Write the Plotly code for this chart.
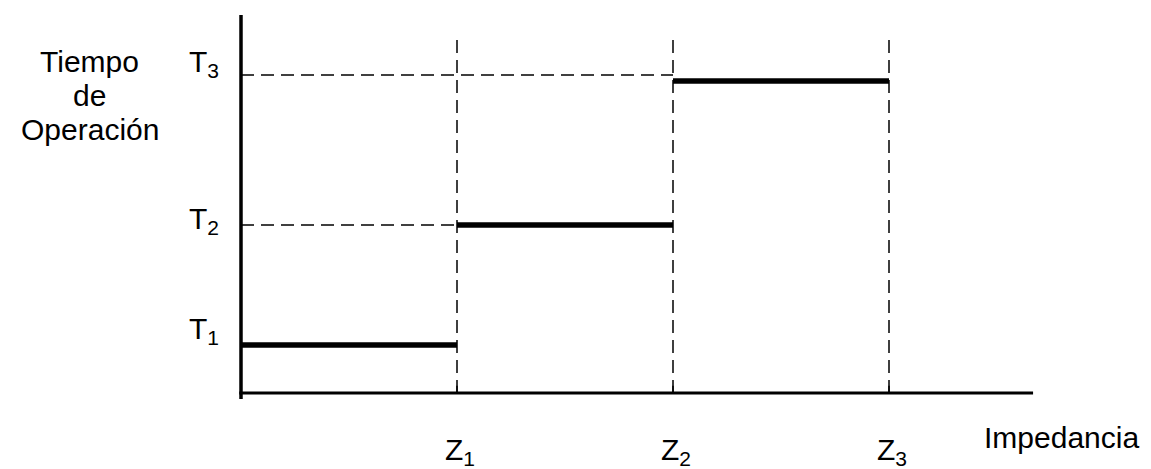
import plotly.graph_objects as go

# Data
z_labels = ["Z<sub>1</sub>", "Z<sub>2</sub>", "Z<sub>3</sub>"]
z_values = [1.0, 2.0, 3.0]
t_labels = ["T<sub>1</sub>", "T<sub>2</sub>", "T<sub>3</sub>"]
t_values = [0.8, 2.8, 5.2]          # operating-time level of each zone
t_guides = [0.8, 2.8, 5.3]          # dashed guide levels
y_title_lines = ["Tiempo", "de", "Operación"]
x_title = "Impedancia"
x_axis_end = 3.667
y_axis_top = 6.3
guide_top = 6.0

# the page body has an 8px margin, so the figure is drawn 8px smaller
W, H = 1151 - 8, 469 - 8
FONT = "Liberation Sans, Arial, sans-serif"
FS = 30
DASH = "13px,7px"

fig = go.Figure()

# Vertical dashed guides at Z1, Z2, Z3
for z in z_values:
    fig.add_trace(go.Scatter(x=[z, z], y=[0, guide_top], mode="lines",
                             line=dict(color="black", width=1.5, dash=DASH),
                             hoverinfo="skip"))
# Horizontal dashed guides at T2 and T3
fig.add_trace(go.Scatter(x=[0, z_values[0]], y=[t_guides[1], t_guides[1]], mode="lines",
                         line=dict(color="black", width=1.5, dash=DASH), hoverinfo="skip"))
fig.add_trace(go.Scatter(x=[0, z_values[1]], y=[t_guides[2], t_guides[2]], mode="lines",
                         line=dict(color="black", width=1.5, dash=DASH), hoverinfo="skip"))

# Step characteristic
starts = [0.0] + z_values[:-1]
for x0, x1, t in zip(starts, z_values, t_values):
    fig.add_trace(go.Scatter(x=[x0, x1], y=[t, t], mode="lines",
                             line=dict(color="black", width=5.5), hoverinfo="skip"))

# Axes
fig.add_trace(go.Scatter(x=[0, 0], y=[-0.1, y_axis_top], mode="lines",
                         line=dict(color="black", width=3.5), hoverinfo="skip"))
fig.add_trace(go.Scatter(x=[-0.008, x_axis_end], y=[0, 0], mode="lines",
                         line=dict(color="black", width=3), hoverinfo="skip"))
# small ticks on x-axis
for z in z_values:
    fig.add_trace(go.Scatter(x=[z, z], y=[0, 0.12], mode="lines",
                             line=dict(color="black", width=1.5), hoverinfo="skip"))

# fixed scale: x origin at 233px, 216px per unit; y origin at 385px, 60px per unit
xr = [-233 / 216, (W - 233) / 216]
yr = [(385 - H) / 60, 385 / 60]

font = dict(family=FONT, size=FS, color="black")
annotations = []
for lab, z in zip(z_labels, z_values):
    annotations.append(dict(x=z + 0.015, y=-0.98, xref="x", yref="y", text=lab, showarrow=False,
                            font=font, xanchor="center", yanchor="middle"))
t_label_y = [1.05, 2.87, 5.5]
for lab, ty in zip(t_labels, t_label_y):
    annotations.append(dict(x=-0.172, y=ty, xref="x", yref="y", text=lab, showarrow=False,
                            font=font, xanchor="center", yanchor="middle"))
for line, ty in zip(y_title_lines, [5.53, 4.96, 4.39]):
    annotations.append(dict(x=-0.70, y=ty, xref="x", yref="y", text=line, showarrow=False,
                            font=font, xanchor="center", yanchor="middle"))
annotations.append(dict(x=3.797, y=-0.74, xref="x", yref="y", text=x_title, showarrow=False,
                        font=font, xanchor="center", yanchor="middle"))

fig.update_layout(
    width=W, height=H,
    margin=dict(l=0, r=0, t=0, b=0),
    paper_bgcolor="white", plot_bgcolor="white",
    showlegend=False, hovermode=False,
    xaxis=dict(range=xr, visible=False, fixedrange=True),
    yaxis=dict(range=yr, visible=False, fixedrange=True),
    annotations=annotations,
)

fig.write_html("out.html", config={"displayModeBar": False})
